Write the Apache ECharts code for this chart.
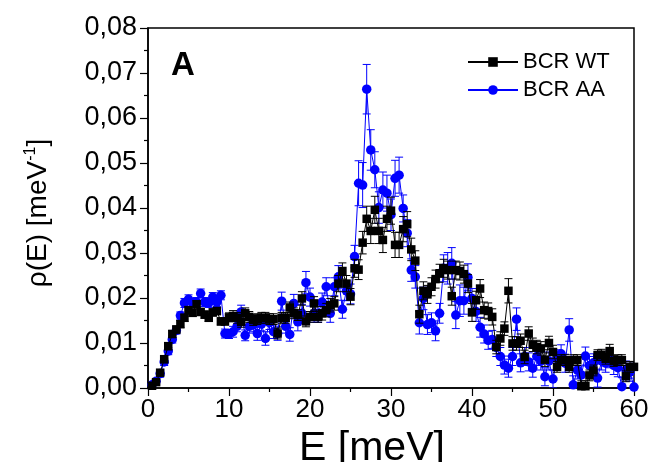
<!DOCTYPE html>
<html>
<head>
<meta charset="utf-8">
<script src="https://cdn.jsdelivr.net/npm/echarts@6/dist/echarts.min.js"></script>
<style>
  html, body { margin: 0; padding: 0; background: #fff; }
  #chart { width: 654px; height: 462px; }
</style>
</head>
<body>
<div id="chart"></div>
<script>
// energy grid, meV (same for both samples)
const energy = [
  0.5, 1.0, 1.5, 2.0, 2.5, 3.0, 3.5, 4.0, 4.5, 5.0,
  5.5, 6.0, 6.5, 7.0, 7.5, 8.0, 8.5, 9.0, 9.5, 10.0,
  10.5, 11.0, 11.5, 12.0, 12.5, 13.0, 13.5, 14.0, 14.5, 15.0,
  15.5, 16.0, 16.5, 17.0, 17.5, 18.0, 18.5, 19.0, 19.5, 20.0,
  20.5, 21.0, 21.5, 22.0, 22.5, 23.0, 23.5, 24.0, 24.5, 25.0,
  25.5, 26.0, 26.5, 27.0, 27.5, 28.0, 28.5, 29.0, 29.5, 30.0,
  30.5, 31.0, 31.5, 32.0, 32.5, 33.0, 33.5, 34.0, 34.5, 35.0,
  35.5, 36.0, 36.5, 37.0, 37.5, 38.0, 38.5, 39.0, 39.5, 40.0,
  40.5, 41.0, 41.5, 42.0, 42.5, 43.0, 43.5, 44.0, 44.5, 45.0,
  45.5, 46.0, 46.5, 47.0, 47.5, 48.0, 48.5, 49.0, 49.5, 50.0,
  50.5, 51.0, 51.5, 52.0, 52.5, 53.0, 53.5, 54.0, 54.5, 55.0,
  55.5, 56.0, 56.5, 57.0, 57.5, 58.0, 58.5, 59.0, 59.5, 60.0
];

// BCR WT
const rhoWT = [
  0.0005, 0.0013, 0.0034, 0.0064, 0.0093, 0.0120, 0.0130, 0.0142, 0.0156, 0.0173,
  0.0167, 0.0186, 0.0169, 0.0163, 0.0156, 0.0168, 0.0171, 0.0148, 0.0148, 0.0157,
  0.0160, 0.0156, 0.0147, 0.0166, 0.0158, 0.0151, 0.0153, 0.0156, 0.0156, 0.0153,
  0.0153, 0.0121, 0.0156, 0.0156, 0.0179, 0.0166, 0.0162, 0.0199, 0.0148, 0.0158,
  0.0188, 0.0158, 0.0166, 0.0173, 0.0184, 0.0188, 0.0232, 0.0260, 0.0232, 0.0203,
  0.0266, 0.0263, 0.0323, 0.0376, 0.0349, 0.0396, 0.0349, 0.0329, 0.0376, 0.0394,
  0.0318, 0.0318, 0.0353, 0.0364, 0.0308, 0.0283, 0.0164, 0.0216, 0.0208, 0.0225,
  0.0242, 0.0255, 0.0266, 0.0262, 0.0204, 0.0262, 0.0260, 0.0253, 0.0232, 0.0168,
  0.0195, 0.0221, 0.0173, 0.0171, 0.0158, 0.0091, 0.0110, 0.0132, 0.0216, 0.0099,
  0.0099, 0.0105, 0.0069, 0.0121, 0.0096, 0.0091, 0.0088, 0.0063, 0.0100, 0.0080,
  0.0047, 0.0062, 0.0062, 0.0047, 0.0062, 0.0062, 0.0004, 0.0004, 0.0028, 0.0039,
  0.0073, 0.0074, 0.0065, 0.0082, 0.0060, 0.0062, 0.0062, 0.0026, 0.0047, 0.0047
];
const errWT = [
  0.0006, 0.0006, 0.0006, 0.0008, 0.0008, 0.0008, 0.0008, 0.0008, 0.0008, 0.0008,
  0.0008, 0.0008, 0.0008, 0.0008, 0.0008, 0.0008, 0.0008, 0.0008, 0.0008, 0.0010,
  0.0012, 0.0012, 0.0012, 0.0012, 0.0012, 0.0012, 0.0012, 0.0012, 0.0012, 0.0012,
  0.0012, 0.0012, 0.0012, 0.0012, 0.0012, 0.0012, 0.0012, 0.0015, 0.0012, 0.0012,
  0.0015, 0.0012, 0.0015, 0.0015, 0.0015, 0.0015, 0.0018, 0.0018, 0.0018, 0.0018,
  0.0020, 0.0022, 0.0025, 0.0028, 0.0028, 0.0030, 0.0028, 0.0028, 0.0028, 0.0030,
  0.0028, 0.0028, 0.0028, 0.0028, 0.0025, 0.0022, 0.0020, 0.0020, 0.0020, 0.0020,
  0.0020, 0.0020, 0.0020, 0.0020, 0.0020, 0.0020, 0.0020, 0.0020, 0.0020, 0.0020,
  0.0020, 0.0020, 0.0018, 0.0018, 0.0018, 0.0015, 0.0015, 0.0015, 0.0027, 0.0015,
  0.0015, 0.0015, 0.0015, 0.0015, 0.0015, 0.0015, 0.0015, 0.0015, 0.0015, 0.0015,
  0.0012, 0.0012, 0.0012, 0.0012, 0.0012, 0.0012, 0.0012, 0.0012, 0.0012, 0.0012,
  0.0012, 0.0012, 0.0012, 0.0015, 0.0012, 0.0012, 0.0012, 0.0012, 0.0012, 0.0012
];

// BCR AA
const rhoAA = [
  0.0007, 0.0015, 0.0032, 0.0058, 0.0082, 0.0108, 0.0128, 0.0161, 0.0189, 0.0197,
  0.0189, 0.0191, 0.0210, 0.0191, 0.0189, 0.0202, 0.0191, 0.0206, 0.0121, 0.0120,
  0.0125, 0.0137, 0.0169, 0.0117, 0.0137, 0.0140, 0.0121, 0.0142, 0.0110, 0.0145,
  0.0125, 0.0121, 0.0193, 0.0137, 0.0119, 0.0188, 0.0147, 0.0166, 0.0234, 0.0202,
  0.0166, 0.0166, 0.0191, 0.0225, 0.0166, 0.0225, 0.0247, 0.0175, 0.0216, 0.0209,
  0.0292, 0.0455, 0.0451, 0.0664, 0.0529, 0.0485, 0.0401, 0.0440, 0.0433, 0.0385,
  0.0466, 0.0473, 0.0399, 0.0344, 0.0262, 0.0247, 0.0145, 0.0199, 0.0141, 0.0145,
  0.0127, 0.0166, 0.0266, 0.0266, 0.0277, 0.0162, 0.0194, 0.0194, 0.0246, 0.0199,
  0.0170, 0.0135, 0.0120, 0.0106, 0.0108, 0.0090, 0.0070, 0.0051, 0.0044, 0.0070,
  0.0153, 0.0056, 0.0070, 0.0058, 0.0044, 0.0070, 0.0060, 0.0025, 0.0060, 0.0020,
  0.0065, 0.0076, 0.0055, 0.0129, 0.0007, 0.0040, 0.0029, 0.0071, 0.0050, 0.0056,
  0.0022, 0.0060, 0.0055, 0.0065, 0.0050, 0.0045, 0.0003, 0.0040, 0.0035, 0.0002
];
const errAA = [
  0.0006, 0.0006, 0.0008, 0.0008, 0.0008, 0.0008, 0.0008, 0.0008, 0.0010, 0.0010,
  0.0010, 0.0010, 0.0010, 0.0010, 0.0010, 0.0010, 0.0010, 0.0010, 0.0010, 0.0010,
  0.0012, 0.0012, 0.0015, 0.0012, 0.0015, 0.0015, 0.0015, 0.0015, 0.0015, 0.0015,
  0.0015, 0.0015, 0.0020, 0.0015, 0.0015, 0.0020, 0.0020, 0.0020, 0.0025, 0.0020,
  0.0020, 0.0020, 0.0020, 0.0020, 0.0020, 0.0020, 0.0025, 0.0020, 0.0022, 0.0022,
  0.0025, 0.0050, 0.0050, 0.0055, 0.0045, 0.0040, 0.0035, 0.0040, 0.0040, 0.0035,
  0.0040, 0.0040, 0.0030, 0.0030, 0.0025, 0.0025, 0.0025, 0.0025, 0.0022, 0.0022,
  0.0022, 0.0022, 0.0030, 0.0035, 0.0035, 0.0030, 0.0035, 0.0030, 0.0030, 0.0022,
  0.0022, 0.0022, 0.0020, 0.0020, 0.0020, 0.0020, 0.0020, 0.0020, 0.0020, 0.0020,
  0.0025, 0.0020, 0.0020, 0.0020, 0.0020, 0.0020, 0.0020, 0.0020, 0.0020, 0.0020,
  0.0020, 0.0020, 0.0020, 0.0025, 0.0020, 0.0020, 0.0020, 0.0020, 0.0020, 0.0020,
  0.0020, 0.0020, 0.0020, 0.0020, 0.0020, 0.0020, 0.0020, 0.0020, 0.0020, 0.0020
];

const xTicks = [0, 10, 20, 30, 40, 50, 60];
const yTicks = [0, 0.01, 0.02, 0.03, 0.04, 0.05, 0.06, 0.07, 0.08];

const BLUE = '#0000ff';
const FONT = 'Liberation Sans, Arial, sans-serif';

function points(rho) {
  return energy.map((e, i) => [e, rho[i]]);
}
function bars(rho, err) {
  return energy.map((e, i) => [e, rho[i] - err[i], rho[i] + err[i]]);
}
function errorBar(color) {
  return function (params, api) {
    const lo = api.coord([api.value(0), api.value(1)]);
    const hi = api.coord([api.value(0), api.value(2)]);
    const hw = 4;
    const st = { stroke: color, lineWidth: 1 };
    return {
      type: 'group',
      children: [
        { type: 'line', shape: { x1: lo[0], y1: lo[1], x2: hi[0], y2: hi[1] }, style: st },
        { type: 'line', shape: { x1: lo[0] - hw, y1: lo[1], x2: lo[0] + hw, y2: lo[1] }, style: st },
        { type: 'line', shape: { x1: hi[0] - hw, y1: hi[1], x2: hi[0] + hw, y2: hi[1] }, style: st }
      ]
    };
  };
}

const chart = echarts.init(document.getElementById('chart'), null, { renderer: 'canvas' });

const option = {
  backgroundColor: '#fff',
  animation: false,
  title: {
    text: 'A',
    left: 166,
    top: 44,
    textStyle: { fontFamily: FONT, fontSize: 33, fontWeight: 'bold', color: '#000' }
  },
  legend: {
    orient: 'vertical',
    left: 462,
    top: 46,
    itemWidth: 50,
    itemHeight: 12,
    itemGap: 6,
    textStyle: { fontFamily: FONT, fontSize: 22, color: '#000' },
    data: ['BCR WT', 'BCR AA']
  },
  grid: {
    left: 148,
    right: 20,
    top: 28,
    bottom: 74,
    outerBoundsMode: 'none',
    containLabel: false,
    show: true,
    borderColor: '#000',
    borderWidth: 1.5
  },
  xAxis: {
    type: 'value',
    min: xTicks[0],
    max: xTicks[xTicks.length - 1],
    interval: 10,
    name: 'E [meV]',
    nameLocation: 'middle',
    nameGap: 29,
    nameTextStyle: {
      fontFamily: FONT, fontSize: 41, color: '#000',
      padding: [0, 38, 0, 0]
    },
    axisLine: { onZero: false, lineStyle: { color: '#000', width: 1.5 } },
    axisTick: { inside: false, length: 8, lineStyle: { color: '#000', width: 1.2 } },
    minorTick: { show: true, splitNumber: 2, length: 4, lineStyle: { color: '#000', width: 1.2 } },
    splitLine: { show: false },
    axisLabel: { fontFamily: FONT, fontSize: 26, color: '#000', margin: 9 }
  },
  yAxis: {
    type: 'value',
    min: yTicks[0],
    max: yTicks[yTicks.length - 1],
    interval: 0.01,
    name: 'ρ(E) [meV{sup|-1}]',
    nameLocation: 'middle',
    nameGap: 95,
    nameTextStyle: {
      fontFamily: FONT, fontSize: 28, color: '#000',
      padding: [0, 10, 0, 0],
      rich: { sup: { fontFamily: FONT, fontSize: 16, color: '#000', padding: [0, 0, 14, 0] } }
    },
    axisLine: { onZero: false, lineStyle: { color: '#000', width: 1.5 } },
    axisTick: { inside: false, length: 8, lineStyle: { color: '#000', width: 1.2 } },
    minorTick: { show: true, splitNumber: 2, length: 4, lineStyle: { color: '#000', width: 1.2 } },
    splitLine: { show: false },
    axisLabel: {
      fontFamily: FONT, fontSize: 27, color: '#000', margin: 11,
      formatter: v => v.toFixed(2).replace('.', ',')
    }
  },
  series: [
    {
      name: 'BCR AA',
      type: 'line',
      data: points(rhoAA),
      symbol: 'circle',
      symbolSize: 9.5,
      itemStyle: { color: BLUE },
      lineStyle: { color: BLUE, width: 1 },
      z: 2
    },
    {
      type: 'custom',
      data: bars(rhoAA, errAA),
      renderItem: errorBar(BLUE),
      clip: true,
      z: 2
    },
    {
      name: 'BCR WT',
      type: 'line',
      data: points(rhoWT),
      symbol: 'rect',
      symbolSize: 8.5,
      itemStyle: { color: '#000' },
      lineStyle: { color: '#000', width: 1 },
      z: 3
    },
    {
      type: 'custom',
      data: bars(rhoWT, errWT),
      renderItem: errorBar('#000'),
      clip: true,
      z: 3
    }
  ]
};

chart.setOption(option);
</script>
</body>
</html>
